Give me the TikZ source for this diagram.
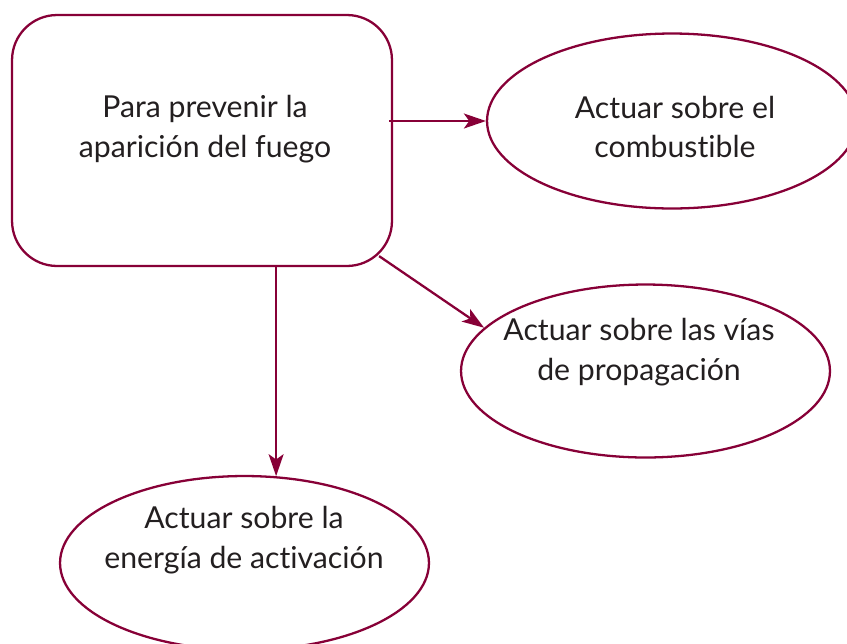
\documentclass[tikz,border=0pt]{standalone}
\usepackage{fontspec}
\setmainfont{Lato}[Ligatures=NoCommon]
\usepackage{xcolor}
\definecolor{Granate}{RGB}{135,0,55}
\definecolor{Texto}{RGB}{35,31,32}
\usepackage{tikz}
\usetikzlibrary{arrows.meta, shapes.geometric, calc}

\begin{document}
\begin{tikzpicture}[x=0.02cm, y=-0.02cm,
    caja/.style={
        rectangle, rounded corners=0.9cm,
        draw=Granate, line width=1.3pt, fill=white,
        minimum width=7.6cm, minimum height=5.02cm},
    elipse/.style={
        ellipse, draw=Granate, line width=1.3pt, fill=white,
        minimum width=7.38cm, minimum height=3.46cm, inner sep=0pt},
    txt/.style={font=\fontsize{17.2}{22.7}\selectfont, text=Texto, align=center},
    arr/.style={-{Stealth[length=12.5pt, width=8.5pt, inset=3pt]},
        line width=1.3pt, color=Granate}]
  \useasboundingbox (0,0) rectangle (847,643);
  % Nodos principales
  \node[caja] (prev) at (202,140.5) {};
  \node[elipse, minimum width=7.4cm, minimum height=3.5cm] (comb) at (672,121) {};
  \node[elipse] (vias) at (645.5,371) {};
  \node[elipse, minimum height=3.48cm] (energia) at (244.5,563) {};
  % Textos
  \node[txt] (tprev) at (205,129) {Para prevenir la\\aparición del fuego};
  \node[txt] (tcomb) at (675,127) {Actuar sobre el\\combustible};
  \node[txt] (tvias) at (639,352) {Actuar sobre las vías\\de propagación};
  \node[txt] (tenergia) at (244,540) {Actuar sobre la\\energía de activación};
  % Flechas
  \draw[arr] ($(prev.east |- comb.west)+(-4,0)$) -- (comb.west);
  \draw[arr] ([shift={(-14,-11)}]prev.south east) -- (vias.165);
  \draw[arr] (prev.south -| energia.70) -- (energia.70);
\end{tikzpicture}
\end{document}
